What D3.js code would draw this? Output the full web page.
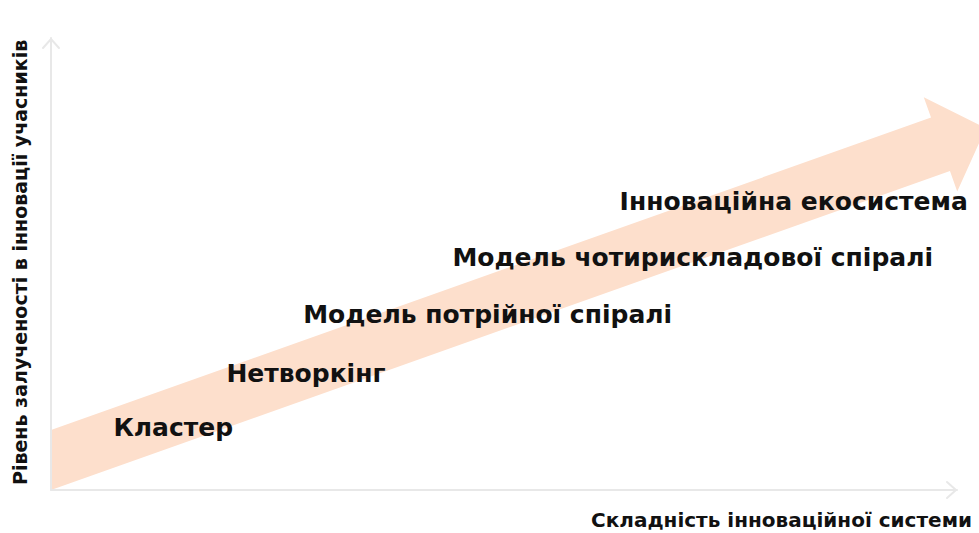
<!DOCTYPE html>
<meta charset="utf-8">
<style>
  body { margin: 0; background: #fff; }
  svg { display: block; font-family: "DejaVu Sans", sans-serif; font-weight: bold; }
</style>
<script src="https://d3js.org/d3.v7.min.js"></script>
<body>
<svg id="chart"></svg>
<script>
// stages of the innovation model, in data units (0-100 on both axes)
const stages = ["Кластер", "Нетворкінг", "Модель потрійної спіралі",
                "Модель чотирискладової спіралі", "Інноваційна екосистема"];
const complexity = [6.9, 19.4, 27.9, 44.4, 62.9];
const involvement = [12.0, 23.9, 37.1, 49.8, 62.2];

const xTitle = "Складність інноваційної системи";
const yTitle = "Рівень залученості в інновації учасників";

// the big arrow: centre line from start to tip (data units), half-width in y units
const arrowFrom = [0, 6.67];
const arrowTo = [103.4, 80.4];
const arrowHalf = 6.67;

const width = 979, height = 533;
const svg = d3.select("#chart").attr("width", width).attr("height", height);

const x = d3.scaleLinear().domain([0, 100]).range([51, 955]);
const y = d3.scaleLinear().domain([0, 100]).range([490, 40]);

// arrow geometry in pixels
const p0 = [x(arrowFrom[0]), y(arrowFrom[1])];
const p1 = [x(arrowTo[0]), y(arrowTo[1])];
const dx = p1[0] - p0[0], dy = p1[1] - p0[1];
const len = Math.hypot(dx, dy);
const ux = dx / len, uy = dy / len;      // direction
const nx = -uy, ny = ux;                 // normal
const vHalf = y(0) - y(arrowHalf);       // vertical half thickness
const half = vHalf * Math.abs(ux);       // perpendicular half thickness
const headLen = 48, headHalf = 50;

// start edge is vertical (clipped by the y axis)
const pt = (b, s, t) => [b[0] + ux * s + nx * t, b[1] + uy * s + ny * t];
const base = pt(p1, -headLen, 0);
const poly = [
  [p0[0], p0[1] - vHalf],
  pt(base, 0, -half),
  pt(base, 0, -headHalf),
  p1,
  pt(base, 0, headHalf),
  pt(base, 0, half),
  [p0[0], p0[1] + vHalf]
];
svg.append("path")
  .attr("d", d3.line()(poly) + "Z")
  .attr("fill", "#fddfcc");

// axes
const axisCol = "#e8e8e8";
const ax = svg.append("g").attr("fill", "none").attr("stroke", axisCol)
  .attr("stroke-width", 2).attr("stroke-linecap", "round");
ax.append("path").attr("d", d3.line()([[x(0), y(0)], [x(0), y(100) - 2]]));
ax.append("path").attr("d", d3.line()([[x(0), y(0)], [x(100) + 2, y(0)]]));
ax.append("path").attr("d", d3.line()([[x(0) - 8, y(100) + 8], [x(0), y(100) - 1], [x(0) + 8, y(100) + 8]]));
ax.append("path").attr("d", d3.line()([[x(100) - 8, y(0) - 8], [x(100) + 1, y(0)], [x(100) - 8, y(0) + 8]]));

// stage labels
svg.append("g").selectAll("text")
  .data(stages)
  .join("text")
  .attr("x", (d, i) => x(complexity[i]))
  .attr("y", (d, i) => y(involvement[i]))
  .attr("font-size", 25)
  .attr("fill", "#111")
  .text(d => d);

// axis titles
svg.append("text")
  .attr("x", 972).attr("y", 527)
  .attr("text-anchor", "end")
  .attr("font-size", 20)
  .attr("fill", "#111")
  .text(xTitle);

svg.append("text")
  .attr("transform", `translate(27,485) rotate(-90)`)
  .attr("text-anchor", "start")
  .attr("font-size", 19)
  .attr("fill", "#111")
  .text(yTitle);
</script>
</body>
